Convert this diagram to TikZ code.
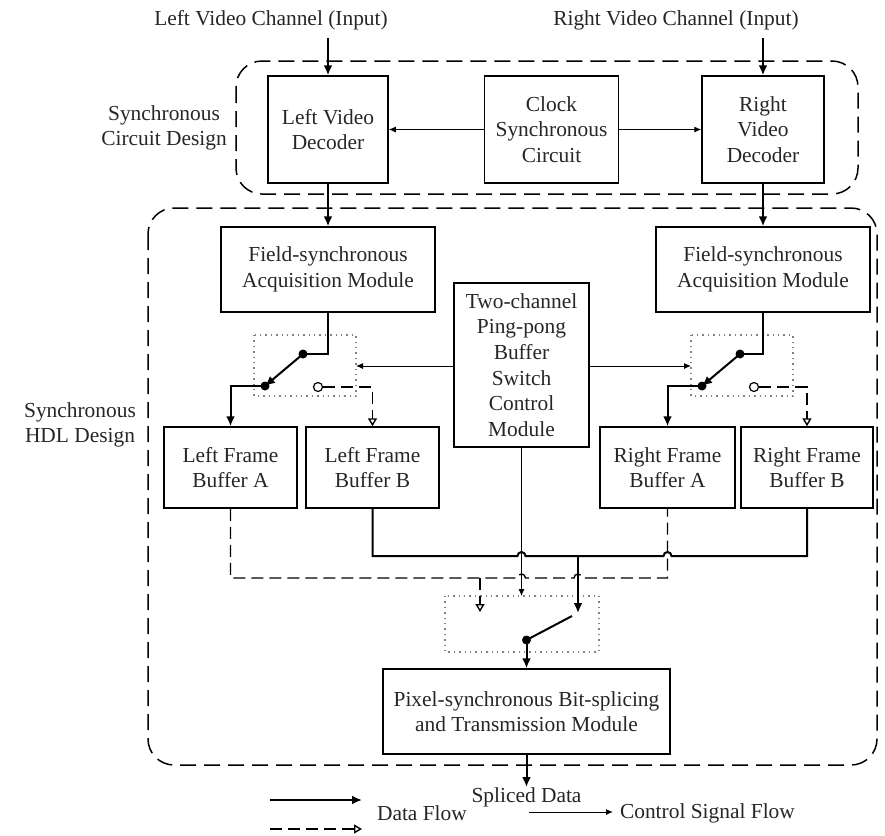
\documentclass[tikz,border=0pt]{standalone}
\usepackage{fontspec}
\setmainfont{Liberation Serif}
\usetikzlibrary{arrows.meta}
\begin{document}
\begin{tikzpicture}[x=0.5pt,y=-0.5pt,
  every node/.style={font=\fontsize{10.7}{12.8}\selectfont, text=black!85},
  box/.style={draw, line width=0.75pt, align=center, inner sep=0pt},
  data/.style={line width=1pt, -{Latex[length=5pt,width=4.5pt]}},
  dline/.style={line width=1pt},
  ctrl/.style={line width=0.5pt, -{Latex[length=3.5pt,width=3pt]}},
  dflow/.style={line width=0.7pt, dash pattern=on 6pt off 3pt, -{Triangle[open,length=4pt,width=4.5pt]}},
  dsh/.style={line width=0.7pt, dash pattern=on 6pt off 3pt},
  region/.style={draw, line width=0.75pt, dash pattern=on 8pt off 4pt, rounded corners=13pt},
  sw/.style={draw=black!50, line width=0.7pt, dotted},
  dot/.style={circle, fill=black, inner sep=0pt, minimum size=4.5pt},
  odot/.style={circle, draw, line width=0.6pt, fill=white, inner sep=0pt, minimum size=4.5pt}
]
\useasboundingbox (0,0) rectangle (885,836);

% regions
\draw[region] (236,61) rectangle (858,194);
\draw[region] (148,208) rectangle (877,765);

% labels
\node (tl) at (271,20) {Left Video Channel (Input)};
\node (tr) at (676,20) {Right Video Channel (Input)};
\node[align=center] (scd) at (164,128) {Synchronous\\Circuit Design};
\node[align=center] (shd) at (80,425) {Synchronous\\HDL Design};

% top boxes
\node[box, minimum width=60pt, minimum height=53.5pt] (ldec) at (328,129.5) {Left Video\\Decoder};
\node[box, minimum width=67pt, minimum height=53.5pt] (clk) at (551.5,129.5) {Clock\\Synchronous\\Circuit};
\node[box, minimum width=61pt, minimum height=53.5pt] (rdec) at (763,129.5) {Right\\Video\\Decoder};

% field boxes
\node[box, minimum width=107pt, minimum height=42.5pt] (lfs) at (328,269.5) {Field-synchronous\\Acquisition Module};
\node[box, minimum width=107pt, minimum height=42.5pt] (rfs) at (763,269.5) {Field-synchronous\\Acquisition Module};

% ping-pong
\node[box, minimum width=67.5pt, minimum height=82pt] (ping) at (521.5,365) {Two-channel\\Ping-pong\\Buffer\\Switch\\Control\\Module};

% frame buffers
\node[box, minimum width=66.5pt, minimum height=40.5pt] (lfa) at (230.5,467.5) {Left Frame\\Buffer A};
\node[box, minimum width=66.5pt, minimum height=40.5pt] (lfb) at (372.5,467.5) {Left Frame\\Buffer B};
\node[box, minimum width=67.5pt, minimum height=40.5pt] (rfa) at (667.5,467.5) {Right Frame\\Buffer A};
\node[box, minimum width=66pt, minimum height=40.5pt] (rfb) at (807,467.5) {Right Frame\\Buffer B};

% pixel box
\node[box, minimum width=143.5pt, minimum height=42.5pt] (pix) at (526.5,711.5) {Pixel-synchronous Bit-splicing\\and Transmission Module};
\node[anchor=north, inner sep=0pt] (spl) at (526.5,787) {Spliced Data};

% inputs
\coordinate (lin) at (328,38);
\coordinate (rin) at (763,38);
\draw[data] (lin) -- (ldec.north);
\draw[data] (rin) -- (rdec.north);
\draw[ctrl] (clk.west) -- (ldec.east);
\draw[ctrl] (clk.east) -- (rdec.east -| rdec.west);
\draw[data] (ldec.south) -- (lfs.north);
\draw[data] (rdec.south) -- (rfs.north);

% switch boxes
\draw[sw] (254,335) rectangle (356,396);
\draw[sw] (691,335) rectangle (793,396);
\draw[sw] (445,596) rectangle (599,652);
\coordinate (lswr) at (356,366);
\coordinate (rswl) at (691,366);
\draw[ctrl] (ping.west |- lswr) -- (lswr);
\draw[ctrl] (ping.east |- rswl) -- (rswl);

% left switch
\node[dot] (l1) at (303,354) {};
\node[dot] (l2) at (265,386) {};
\node[odot] (lo) at (318,387) {};
\draw[dline] (lfs.south) |- (l1.center);
\draw[data] (l1.center) -- (l2.center);
\draw[data] (l2.center) -| (lfa.north);
\draw[dflow] (lo.east) -| (lfb.north);

% right switch
\node[dot] (r1) at (740,354) {};
\node[dot] (r2) at (702,386) {};
\node[odot] (ro) at (754,387) {};
\draw[dline] (rfs.south) |- (r1.center);
\draw[data] (r1.center) -- (r2.center);
\draw[data] (r2.center) -| (rfa.north);
\draw[dflow] (ro.east) -| (rfb.north);

% merging lines
\draw[dline] (lfb.south) |- (517.5,556) arc[start angle=180,end angle=0,radius=2pt] -- (663.5,556) arc[start angle=180,end angle=0,radius=2pt] -| (rfb.south);
\draw[dsh] (lfa.south) |- (517.5,578) arc[start angle=180,end angle=0,radius=2pt] -- (574,578) arc[start angle=180,end angle=0,radius=2pt] -| (rfa.south);
\coordinate (dstub) at (480,578);
\coordinate (dtip) at (480,612);
\draw[dflow] (dstub) -- (dtip);
\coordinate (ctip) at (521.5,596);
\draw[ctrl] (ping.south) -- (ctip);
\coordinate (tj) at (578,556);
\coordinate (ttip) at (578,613);
\draw[data] (tj) -- (ttip);
\coordinate (b1) at (572,616);
\node[dot] (b2) at (526.5,640) {};
\draw[dline] (b1) -- (b2.center);
\draw[data] (b2.center) -- (pix.north);
\draw[data] (pix.south) -- (spl.north);

% legend
\coordinate (la1) at (270,800);
\coordinate (la2) at (362,800);
\draw[data] (la1) -- (la2);
\coordinate (lb1) at (270,829);
\coordinate (lb2) at (362,829);
\draw[dflow] (lb1) -- (lb2);
\node[anchor=west] (ldf) at (370,813) {Data Flow};
\coordinate (lc1) at (529,812);
\coordinate (lc2) at (613,812);
\draw[ctrl] (lc1) -- (lc2);
\node[anchor=west] (lcf) at (613,813) {Control Signal Flow};
\end{tikzpicture}
\end{document}
